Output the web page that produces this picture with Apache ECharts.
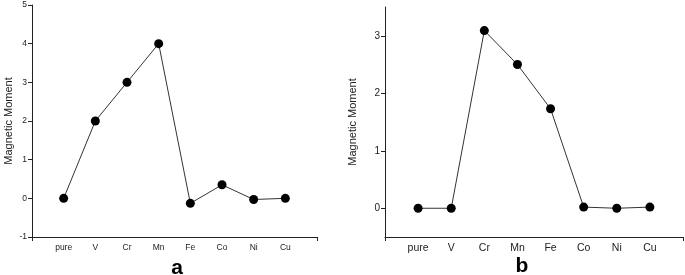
<!DOCTYPE html>
<html>
<head>
<meta charset="utf-8">
<script src="https://cdn.jsdelivr.net/npm/echarts@6/dist/echarts.min.js"></script>
<style>
  html, body { margin: 0; padding: 0; background: #fff; }
  #chart { width: 685px; height: 275px; }
</style>
</head>
<body>
<div id="chart"></div>
<script>
// categories shared by both panels
const elements = ['pure', 'V', 'Cr', 'Mn', 'Fe', 'Co', 'Ni', 'Cu'];

// panel a values
const momentA = [0, 2, 3, 4, -0.13, 0.35, -0.03, 0];
// panel b values
const momentB = [0, 0, 3.09, 2.5, 1.73, 0.02, 0, 0.02];

const yTicksB = [0, 1, 2, 3];
const categoryIndex = elements.map((_, i) => i);

const font = 'Liberation Sans, Arial, sans-serif';
const axisColor = '#222';

function xAxisFor(gridIndex, fontSize) {
  return {
    type: 'value',
    gridIndex: gridIndex,
    min: -1,
    max: 8,
    interval: 1,
    splitLine: { show: false },
    axisLine: { onZero: false, lineStyle: { color: axisColor, width: 1 } },
    axisTick: { show: true, length: 4, customValues: [-1, 8], lineStyle: { color: axisColor } },
    axisLabel: {
      customValues: categoryIndex,
      formatter: v => elements[v] ?? '',
      color: '#222',
      fontSize: fontSize,
      fontFamily: font,
      margin: 6
    }
  };
}

const chart = echarts.init(document.getElementById('chart'));
chart.setOption({
  animation: false,
  title: [
    { text: 'a', left: 172, top: 253, textAlign: 'center',
      textStyle: { fontSize: 21, fontWeight: 'bold', fontFamily: font, color: '#000' } },
    { text: 'b', left: 517, top: 251, textAlign: 'center',
      textStyle: { fontSize: 21, fontWeight: 'bold', fontFamily: font, color: '#000' } }
  ],
  grid: [
    { left: 32, top: 5, width: 285, height: 232 },
    { left: 385, top: 7, width: 298, height: 230 }
  ],
  xAxis: [xAxisFor(0, 8.5), xAxisFor(1, 10.5)],
  yAxis: [
    {
      type: 'value',
      gridIndex: 0,
      min: -1,
      max: 5,
      interval: 1,
      name: 'Magnetic Moment',
      nameLocation: 'middle',
      nameGap: 18,
      nameTextStyle: { fontSize: 11, fontFamily: font, color: '#222' },
      splitLine: { show: false },
      axisLine: { show: true, onZero: false, lineStyle: { color: axisColor, width: 1 } },
      axisTick: { show: true, length: 4, lineStyle: { color: axisColor } },
      axisLabel: { color: '#222', fontSize: 8.5, fontFamily: font, margin: 5 }
    },
    {
      type: 'value',
      gridIndex: 1,
      min: -0.5,
      max: 3.5,
      name: 'Magnetic Moment',
      nameLocation: 'middle',
      nameGap: 27,
      nameTextStyle: { fontSize: 11, fontFamily: font, color: '#222' },
      splitLine: { show: false },
      axisLine: { show: true, onZero: false, lineStyle: { color: axisColor, width: 1 } },
      axisTick: { show: true, length: 4, customValues: yTicksB, lineStyle: { color: axisColor } },
      axisLabel: { customValues: yTicksB, color: '#222', fontSize: 10, fontFamily: font, margin: 5 }
    }
  ],
  series: [
    {
      type: 'line',
      xAxisIndex: 0,
      yAxisIndex: 0,
      data: momentA.map((v, i) => [i, v]),
      symbol: 'circle',
      symbolSize: 9,
      itemStyle: { color: '#000' },
      lineStyle: { color: '#333', width: 1 }
    },
    {
      type: 'line',
      xAxisIndex: 1,
      yAxisIndex: 1,
      data: momentB.map((v, i) => [i, v]),
      symbol: 'circle',
      symbolSize: 9,
      itemStyle: { color: '#000' },
      lineStyle: { color: '#333', width: 1 }
    }
  ]
});
</script>
</body>
</html>
